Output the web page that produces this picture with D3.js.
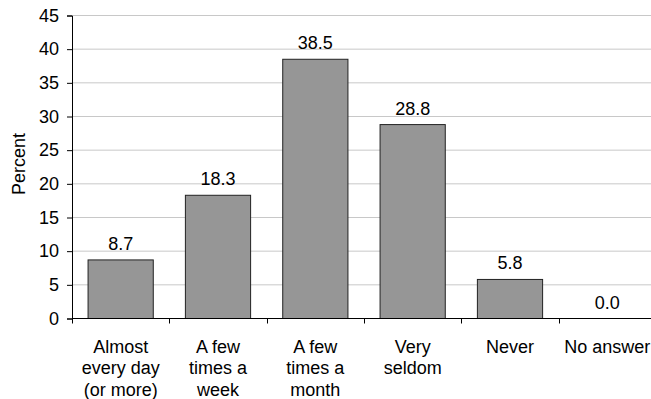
<!DOCTYPE html>
<meta charset="utf-8">
<head>
<style>
body { margin: 0; background: #fff; }
text { font-family: "Liberation Sans", Arial, sans-serif; fill: #000; }
</style>
<script src="https://d3js.org/d3.v7.min.js"></script>
</head>
<body>
<div id="chart"></div>
<script>
var categories = [["Almost", "every day", "(or more)"], ["A few", "times a", "week"], ["A few", "times a", "month"], ["Very", "seldom"], ["Never"], ["No answer"]];
var values = [8.7, 18.3, 38.5, 28.8, 5.8, 0.0];
var yTicks = [0, 5, 10, 15, 20, 25, 30, 35, 40, 45];

var width = 651,
    height = 399;

var svg = d3.select("#chart").append("svg")
    .attr("width", width)
    .attr("height", height);

var x = d3.scaleBand()
    .domain(d3.range(values.length))
    .range([72, 656])
    .paddingInner(0.33)
    .paddingOuter(0.165);

var y = d3.scaleLinear()
    .domain([0, 45])
    .range([318.5, 15.5]);

// gridlines
svg.append("g")
  .selectAll("line")
  .data(yTicks.slice(1))
  .enter().append("line")
    .attr("x1", 72)
    .attr("x2", 656)
    .attr("y1", function(d) { return y(d); })
    .attr("y2", function(d) { return y(d); })
    .attr("stroke", "#c8c8c8")
    .attr("stroke-width", 1);

// bars
svg.append("g")
  .selectAll("rect")
  .data(values)
  .enter().append("rect")
    .attr("x", function(d, i) { return x(i); })
    .attr("y", function(d) { return y(d); })
    .attr("width", x.bandwidth())
    .attr("height", function(d) { return y(0) - y(d); })
    .attr("fill", "#969696")
    .attr("stroke", "#222")
    .attr("stroke-width", 1);

// value labels
svg.append("g")
  .selectAll("text")
  .data(values)
  .enter().append("text")
    .attr("x", function(d, i) { return x(i) + x.bandwidth() / 2; })
    .attr("y", function(d) { return y(d) - 10; })
    .attr("text-anchor", "middle")
    .style("font-size", "18px")
    .text(function(d) { return d.toFixed(1); });

// y axis
var yAxis = svg.append("g")
    .attr("transform", "translate(72,0)")
    .call(d3.axisLeft(y).tickValues(yTicks).tickSize(5).tickPadding(8));
yAxis.select(".domain").attr("stroke", "#000");
yAxis.selectAll(".tick line").attr("stroke", "#000");
yAxis.selectAll("text").style("font-size", "18px").attr("fill", "#000");

// x axis
var xBoundaries = d3.range(values.length + 1).map(function(i) { return 72 + i * x.step(); });
svg.append("line")
    .attr("x1", 72).attr("x2", 656)
    .attr("y1", y(0)).attr("y2", y(0))
    .attr("stroke", "#000");
svg.append("g")
  .selectAll("line")
  .data(xBoundaries)
  .enter().append("line")
    .attr("x1", function(d) { return Math.round(d) + 0.5; })
    .attr("x2", function(d) { return Math.round(d) + 0.5; })
    .attr("y1", y(0))
    .attr("y2", y(0) + 5)
    .attr("stroke", "#000");

// category labels
var catLabels = svg.append("g")
  .selectAll("text")
  .data(categories)
  .enter().append("text")
    .attr("text-anchor", "middle")
    .style("font-size", "18px")
    .attr("transform", function(d, i) { return "translate(" + (x(i) + x.bandwidth() / 2) + ",352.5)"; });
catLabels.selectAll("tspan")
  .data(function(d) { return d; })
  .enter().append("tspan")
    .attr("x", 0)
    .attr("y", function(d, j) { return j * 21.5; })
    .text(function(d) { return d; });

// y title
svg.append("text")
    .attr("transform", "translate(25,164) rotate(-90)")
    .attr("text-anchor", "middle")
    .style("font-size", "18px")
    .text("Percent");
</script>
</body>
